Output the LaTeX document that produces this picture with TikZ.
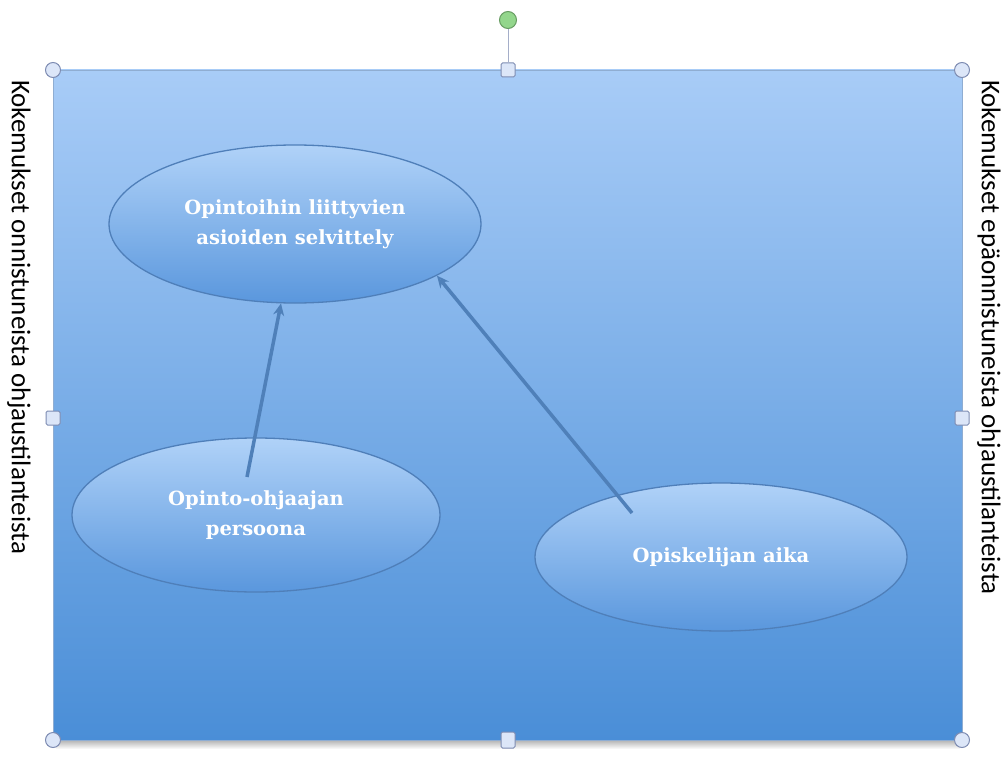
\documentclass[tikz,border=0pt]{standalone}
\usepackage{fontspec}
\setmainfont{DejaVu Serif}
\newfontfamily\sidefont{Carlito}
\usetikzlibrary{arrows.meta,shapes.geometric,positioning}

\definecolor{boxtop}{HTML}{A8CCF7}
\definecolor{boxbot}{HTML}{4A8ED7}
\definecolor{elltop}{HTML}{B0D2F8}
\definecolor{ellbot}{HTML}{5A97DD}
\definecolor{ellline}{HTML}{4F7FB9}
\definecolor{arrline}{HTML}{4F80B9}
\definecolor{handfill}{HTML}{DCE6F8}
\definecolor{handline}{HTML}{7E8CB2}
\definecolor{rotfill}{HTML}{93D68C}
\definecolor{rotline}{HTML}{679C62}

\tikzset{
  topic/.style={ellipse, draw=ellline, line width=1.3pt,
    top color=elltop, bottom color=ellbot, inner sep=0pt,
    align=center, text=white,
    font=\bfseries\fontsize{19.5}{30}\selectfont},
  link/.style={arrline, line width=3.5pt,
    -{Stealth[open,length=12pt,width=11pt]}},
  sidetext/.style={rotate=-90, anchor=west, inner sep=0pt,
    font=\sidefont\fontsize{27}{30}\selectfont},
  cornerhandle/.style={circle, draw=handline, fill=handfill,
    line width=1pt, minimum size=15pt, inner sep=0pt},
  edgehandle/.style={rectangle, rounded corners=1.5pt, draw=handline,
    fill=handfill, line width=1pt, minimum size=14pt, inner sep=0pt},
}

\begin{document}
\begin{tikzpicture}[x=1pt, y=-1pt]
    \useasboundingbox (0,0) rectangle (1002,776);

    % selected text box
    \shade[top color=black!30, bottom color=white]
      (56,740) rectangle (960,749);
    \shade[top color=boxtop, bottom color=boxbot, draw=boxtop!85!black, line width=0.6pt]
      (53,70) rectangle (962,740);

    \node (Sel) at (295,224) [topic, minimum width=372pt, minimum height=158pt]
      {Opintoihin liittyvien\\asioiden selvittely};
    \node (Per) at (256,515) [topic, minimum width=368pt, minimum height=154pt]
      {Opinto-ohjaajan\\persoona};
    \node (Aik) at (721,557) [topic, minimum width=372pt, minimum height=148pt]
      {Opiskelijan aika};

    \coordinate (PerTail) at (247,477);
    \coordinate (AikTail) at (632,513);

    \draw[link] (PerTail) to (Sel.260);
    \draw[link] (AikTail) to (Sel.340);

    \node (Lft) at (19,80) [sidetext] {Kokemukset onnistuneista ohjaustilanteista};
    \node (Rgt) at (989,80) [sidetext] {Kokemukset epäonnistuneista ohjaustilanteista};

    % handles
    \node (Rot) at (508,20) [circle, draw=rotline, fill=rotfill, line width=1pt,
      minimum size=17pt, inner sep=0pt] {};
    \node (MTop) at (508,70) [edgehandle] {};
    \draw[handline!70, line width=0.8pt] (Rot) -- (MTop);
    \node (MBot) at (508,740) [edgehandle, minimum height=16pt] {};
    \node (MLft) at (53,418) [edgehandle] {};
    \node (MRgt) at (962,418) [edgehandle] {};
    \foreach \x/\y/\n in {53/70/TL, 962/70/TR, 53/740/BL, 962/740/BR}
      \node (C\n) at (\x,\y) [cornerhandle] {};
  \end{tikzpicture}
\end{document}
